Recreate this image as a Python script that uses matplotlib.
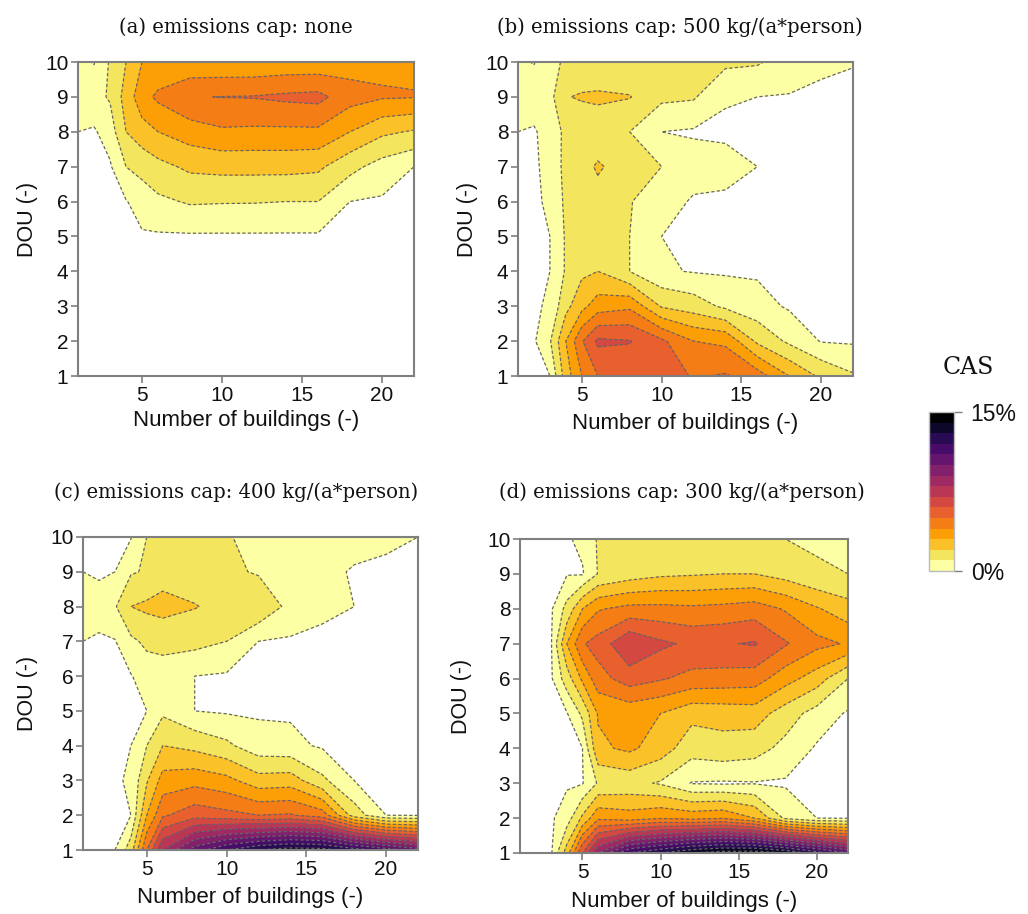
import numpy as np
import matplotlib
matplotlib.use("Agg")
import matplotlib.pyplot as plt
from matplotlib.colors import BoundaryNorm, ListedColormap
from matplotlib.cm import ScalarMappable

buildings = [1, 2, 3, 4, 5, 6, 8, 10, 12, 14, 16, 18, 20, 22]
dou = [1, 2, 3, 4, 5, 6, 7, 8, 9, 10]

# each inner list: one building count, DOU 1..10 (CAS band value)
panel_a = [
    [0, 0, 0, 0, 0, 0, 0, .1, .6, .3],
    [0, 0, 0, 0, 0, 0, 0, 0, .7, .05],
    [0, 0, 0, 0, 0, 0, 0, .5, 1.1, 1.1],
    [0, 0, 0, 0, 0, .05, 1.0, 2.0, 2.4, 2.0],
    [0, 0, 0, 0, 0, .5, 1.3, 2.6, 3.6, 3.0],
    [0, 0, 0, 0, 0, .8, 1.7, 3.0, 4.2, 3.2],
    [0, 0, 0, 0, 0, 1.1, 2.2, 3.5, 4.95, 3.2],
    [0, 0, 0, 0, 0, 1.06, 2.3, 3.85, 5.02, 3.2],
    [0, 0, 0, 0, 0, 1.05, 2.3, 3.8, 5.05, 3.2],
    [0, 0, 0, 0, 0, 1.0, 2.3, 3.8, 5.2, 3.3],
    [0, 0, 0, 0, 0, 1.0, 2.2, 3.8, 5.3, 3.3],
    [0, 0, 0, 0, 0, .1, 1.3, 3.0, 4.4, 3.6],
    [0, 0, 0, 0, 0, 0, .6, 2.2, 4.1, 3.8],
    [0, 0, 0, 0, 0, 0, .1, 1.9, 4.05, 3.8],
]
panel_b = [
    [0, 0, 0, 0, 0, 0, 0, .1, .5, .3],
    [0, 0, 0, 0, 0, 0, 0, 0, .6, .05],
    [.1, .9, .2, .1, .1, .2, .3, .5, .7, .8],
    [2.5, 3.0, 1.7, 1.1, 1.1, 1.2, 1.3, 1.2, 1.95, 1.1],
    [4.0, 4.9, 2.7, 1.8, 1.2, 1.4, 1.7, 1.3, 2.1, 1.3],
    [5.0, 6.2, 3.5, 2.0, 1.4, 1.7, 2.1, 1.5, 2.15, 1.3],
    [5.4, 6.05, 3.8, 1.0, 1.0, 1.05, 1.6, 1.0, 2.05, 1.2],
    [5.6, 5.2, 1.9, .2, .1, .5, 1.0, .1, 1.2, 1.3],
    [4.9, 4.0, 1.5, .05, 0, 0, .5, 0, 1.1, 1.3],
    [5.1, 3.8, .8, 0, 0, 0, .3, 0, .15, 1.2],
    [4.5, 1.8, .4, 0, 0, 0, .1, 0, .1, 1.1],
    [3.0, .8, 0, 0, 0, 0, 0, 0, .05, .6],
    [1.8, .05, 0, 0, 0, 0, 0, 0, 0, .2],
    [1.1, 0, 0, 0, 0, 0, 0, 0, 0, .12],
]
panel_c = [
    [0, 0, 0, 0, 0, 0, .1, .6, .1, 0],
    [0, 0, 0, 0, 0, 0, 0, .4, 0, 0],
    [.1, 0, 0, 0, 0, 0, .05, .9, .1, 0],
    [1.5, .1, .2, .1, 0, .05, .8, 2.0, .9, .05],
    [5.0, 3.0, 1.9, 1.0, .1, .5, 1.2, 2.2, 1.1, 1.0],
    [8.0, 4.85, 3.4, 2.0, .8, .7, 1.2, 2.4, 1.5, 1.1],
    [10.5, 5.6, 3.65, 1.7, .1, .1, 1.3, 2.05, 1.5, 1.1],
    [12.0, 5.3, 3.3, 1.2, 0, 0, 1.0, 1.7, 1.2, 1.1],
    [13.0, 5.0, 2.4, .4, 0, 0, .1, 1.8, .9, .6],
    [13.5, 5.1, 2.5, .3, 0, 0, 0, .7, .4, .4],
    [13.4, 4.5, 1.2, 0, 0, 0, 0, .2, .25, .35],
    [12.5, 1.5, .1, 0, 0, 0, 0, .1, .05, .3],
    [11.5, .1, 0, 0, 0, 0, 0, 0, 0, .2],
    [10.5, .05, 0, 0, 0, 0, 0, 0, 0, .1],
]
panel_d = [
    [0, 0, 0, 0, 0, 0, 0, 0, 0, 0],
    [0, 0, 0, 0, 0, 0, 0, 0, 0, 0],
    [0, 0, 0, 0, 0, 0, .05, 0, 0, 0],
    [2.5, .5, 0, 0, .05, 1.5, 3.0, 1.3, .05, 0],
    [6.0, 2.2, .05, .1, 1.2, 3.2, 4.9, 3.0, .02, .3],
    [9.0, 3.8, 1.1, 2.8, 3.1, 4.6, 5.4, 3.9, 1.05, 1.1],
    [12.0, 3.5, 1.3, 3.2, 3.3, 5.5, 6.9, 4.3, 1.5, 1.2],
    [13.0, 3.9, .9, 2.5, 3.0, 5.1, 6.2, 4.3, 1.8, 1.2],
    [14.0, 3.7, .05, 1.4, 2.3, 4.7, 5.8, 4.2, 1.9, 1.2],
    [14.5, 3.9, 0, 1.6, 2.4, 4.6, 5.9, 4.3, 2.0, 1.2],
    [14.6, 3.0, .05, 1.4, 2.5, 4.5, 6.1, 4.5, 2.0, 1.2],
    [14.0, .8, 0, .7, 1.5, 3.4, 5.1, 3.9, 1.6, 1.0],
    [12.5, .1, 0, 0, .6, 2.5, 4.3, 3.1, 1.1, .9],
    [11.0, .05, 0, 0, 0, 1.0, 3.9, 2.4, 1.0, .6],
]
titles = ["(a) emissions cap: none",
          "(b) emissions cap: 500 kg/(a*person)",
          "(c) emissions cap: 400 kg/(a*person)",
          "(d) emissions cap: 300 kg/(a*person)"]
levels = [0.1] + list(range(1, 16))
xticks = [5, 10, 15, 20]
x_label = "Number of buildings (-)"
y_label = "DOU (-)"
bar_title = "CAS"
bar_ticks = ["0%", "15%"]

W, H = 1028, 914
SANS = "Liberation Sans"
SERIF = "DejaVu Serif"
GREY = "#7f7f7f"
boxes = [(78, 62, 414, 376), (518, 62, 853, 376),
         (83, 537, 418, 850), (520, 539, 848, 853)]
title_pos = [(236, 27), (680, 27), (236, 492), (682, 492)]
label_y = [421, 423, 897, 901]
ylabel_x = [28, 467, 28, 462]
colors = [plt.cm.inferno_r(i / 14) for i in range(15)]

fig = plt.figure(figsize=(W / 100, H / 100), dpi=100, facecolor="white")


def add_axes(box):
    l, t, r, b = box
    return fig.add_axes([l / W, 1 - b / H, (r - l) / W, (b - t) / H])


for box, data, title, tp, ly, yx in zip(boxes, [panel_a, panel_b, panel_c, panel_d],
                                        titles, title_pos, label_y, ylabel_x):
    ax = add_axes(box)
    Z = np.array(data, dtype=float).T
    ax.contourf(buildings, dou, Z, levels=levels + [99], colors=colors)
    ax.contour(buildings, dou, Z, levels=levels, colors="#666666",
               linewidths=0.9, linestyles=[(0, (2.6, 1.8))])
    ax.set_xlim(1, 22)
    ax.set_ylim(1, 10)
    ax.set_xticks(xticks)
    ax.set_yticks(dou)
    ax.tick_params(labelsize=15, length=5, width=1.2, color=GREY, pad=2,
                   labelcolor="#111111")
    for lab in ax.get_xticklabels() + ax.get_yticklabels():
        lab.set_fontfamily(SANS)
    for s in ax.spines.values():
        s.set_color(GREY)
        s.set_linewidth(1.5)
    l, t, r, b = box
    fig.text((l + r) / 2 / W, 1 - ly / H, x_label, ha="center", va="center",
             fontsize=16, family=SANS, color="#111111")
    fig.text(yx / W, 1 - (t + b) / 2 / H, y_label, ha="center", va="center",
             rotation=90, fontsize=15.5, family=SANS, color="#111111")
    fig.text(tp[0] / W, 1 - tp[1] / H, title, ha="center", va="center",
             fontsize=14.1, family=SERIF, color="#111111")

cax = add_axes((929, 412, 954, 571))
cb = fig.colorbar(ScalarMappable(norm=BoundaryNorm(np.arange(16), 15),
                                 cmap=ListedColormap(colors)),
                  cax=cax, ticks=[0, 15], spacing="proportional")
cb.minorticks_off()
cb.ax.set_yticklabels(bar_ticks, fontsize=16.5, family=SANS, color="#111111")
cb.ax.tick_params(length=6, width=1, color=GREY, pad=6)
cb.outline.set_edgecolor("#bbbbbb")
cb.outline.set_linewidth(1)
fig.text(968 / W, 1 - 368 / H, bar_title, ha="center", va="center",
         fontsize=17, family=SERIF, color="#111111")

fig.savefig("out.png", dpi=100)
